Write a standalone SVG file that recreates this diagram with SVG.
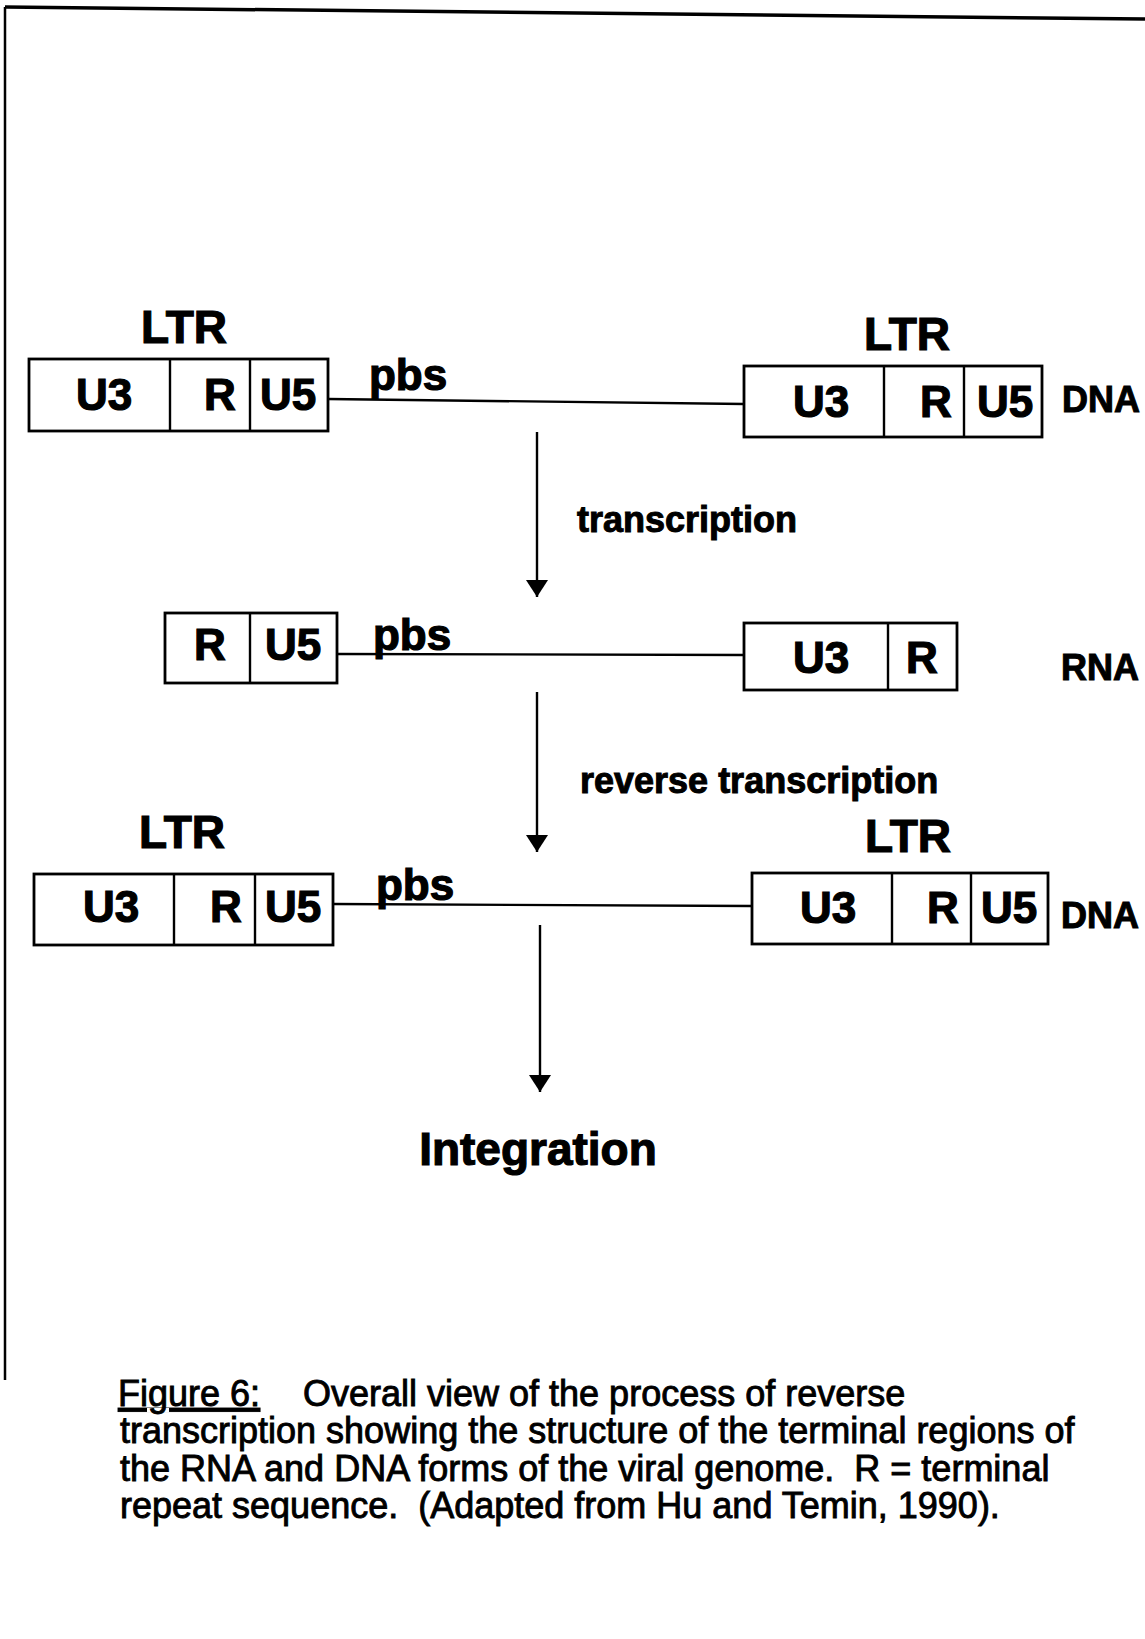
<svg xmlns="http://www.w3.org/2000/svg" width="1145" height="1639" viewBox="0 0 1145 1639">
<style>
.box{fill:none;stroke:#000;stroke-width:2.8}
.div{stroke:#000;stroke-width:2.4}
.ln{stroke:#000;stroke-width:2.4;fill:none}
.lbl{font-family:"Liberation Sans",Arial,sans-serif;font-weight:bold;font-size:44px;fill:#000;stroke:#000;stroke-width:1.2;text-anchor:middle}
.ltr{font-family:"Liberation Sans",Arial,sans-serif;font-weight:bold;font-size:46px;fill:#000;stroke:#000;stroke-width:1.2;text-anchor:middle}
.typ{font-family:"Liberation Sans",Arial,sans-serif;font-weight:bold;font-size:36px;fill:#000;stroke:#000;stroke-width:1;text-anchor:middle}
.step{font-family:"Liberation Sans",Arial,sans-serif;font-weight:bold;font-size:36px;fill:#000;stroke:#000;stroke-width:1}
.cap{font-family:"Liberation Sans",Arial,sans-serif;font-size:36px;fill:#000;stroke:#000;stroke-width:0.9}
</style>
<defs>
<marker id="ah" viewBox="0 0 17 22" markerWidth="17" markerHeight="22" refX="17" refY="11" orient="auto" markerUnits="userSpaceOnUse">
<path d="M0,0 L17,11 L0,22 z" fill="#000"/>
</marker>
</defs>
<rect width="1145" height="1639" fill="#fff"/>
<g id="frame">
<path d="M5,7 L1145,19" stroke="#000" stroke-width="3.5" fill="none"/>
<path d="M5,7 L5,1380" stroke="#000" stroke-width="2.5" fill="none"/>
</g>
<g id="connectors">
<path class="ln" d="M328,399 L744,404"/>
<path class="ln" d="M337,654 L745,655"/>
<path class="ln" d="M333,904 L752,906"/>
<path class="ln" d="M537,432 L537,597" marker-end="url(#ah)"/>
<path class="ln" d="M537,692 L537,852" marker-end="url(#ah)"/>
<path class="ln" d="M540,925 L540,1092" marker-end="url(#ah)"/>
</g>
<g id="dna1-left">
<text class="ltr" x="184" y="343">LTR</text>
<rect class="box" x="29" y="359" width="299" height="72"/>
<line class="div" x1="170" y1="359" x2="170" y2="431"/>
<line class="div" x1="250" y1="359" x2="250" y2="431"/>
<text class="lbl" x="104" y="410">U3</text>
<text class="lbl" x="220" y="410">R</text>
<text class="lbl" x="288" y="410">U5</text>
<text class="lbl" x="408" y="390">pbs</text>
</g>
<g id="dna1-right">
<text class="ltr" x="907" y="350">LTR</text>
<rect class="box" x="744" y="366" width="298" height="71"/>
<line class="div" x1="884" y1="366" x2="884" y2="437"/>
<line class="div" x1="964" y1="366" x2="964" y2="437"/>
<text class="lbl" x="821" y="417">U3</text>
<text class="lbl" x="936" y="417">R</text>
<text class="lbl" x="1005" y="417">U5</text>
<text class="typ" x="1101" y="412">DNA</text>
</g>
<g id="transcription">
<text class="step" x="577" y="532">transcription</text>
</g>
<g id="rna-left">
<rect class="box" x="165" y="613" width="172" height="70"/>
<line class="div" x1="250" y1="613" x2="250" y2="683"/>
<text class="lbl" x="210" y="660">R</text>
<text class="lbl" x="293" y="660">U5</text>
<text class="lbl" x="412" y="650">pbs</text>
</g>
<g id="rna-right">
<rect class="box" x="744" y="623" width="213" height="67"/>
<line class="div" x1="888" y1="623" x2="888" y2="690"/>
<text class="lbl" x="821" y="673">U3</text>
<text class="lbl" x="922" y="673">R</text>
<text class="typ" x="1100" y="680">RNA</text>
</g>
<g id="reverse-transcription">
<text class="step" x="580" y="793">reverse transcription</text>
</g>
<g id="dna2-left">
<text class="ltr" x="182" y="848">LTR</text>
<rect class="box" x="34" y="874" width="299" height="71"/>
<line class="div" x1="174" y1="874" x2="174" y2="945"/>
<line class="div" x1="255" y1="874" x2="255" y2="945"/>
<text class="lbl" x="111" y="922">U3</text>
<text class="lbl" x="226" y="922">R</text>
<text class="lbl" x="293" y="922">U5</text>
<text class="lbl" x="415" y="900">pbs</text>
</g>
<g id="dna2-right">
<text class="ltr" x="908" y="852">LTR</text>
<rect class="box" x="752" y="873" width="296" height="71"/>
<line class="div" x1="892" y1="873" x2="892" y2="944"/>
<line class="div" x1="971" y1="873" x2="971" y2="944"/>
<text class="lbl" x="828" y="923">U3</text>
<text class="lbl" x="943" y="923">R</text>
<text class="lbl" x="1009" y="923">U5</text>
<text class="typ" x="1100" y="928">DNA</text>
</g>
<g id="integration">
<text class="ltr" x="538" y="1165">Integration</text>
</g>
<g id="caption">
<text class="cap" x="118" y="1406"><tspan text-decoration="underline">Figure 6:</tspan></text>
<text class="cap" x="303" y="1406">Overall view of the process of reverse</text>
<text class="cap" x="120" y="1443">transcription showing the structure of the terminal regions of</text>
<text class="cap" x="120" y="1481" xml:space="preserve">the RNA and DNA forms of the viral genome.  R = terminal</text>
<text class="cap" x="120" y="1518" xml:space="preserve">repeat sequence.  (Adapted from Hu and Temin, 1990).</text>
</g>
</svg>
